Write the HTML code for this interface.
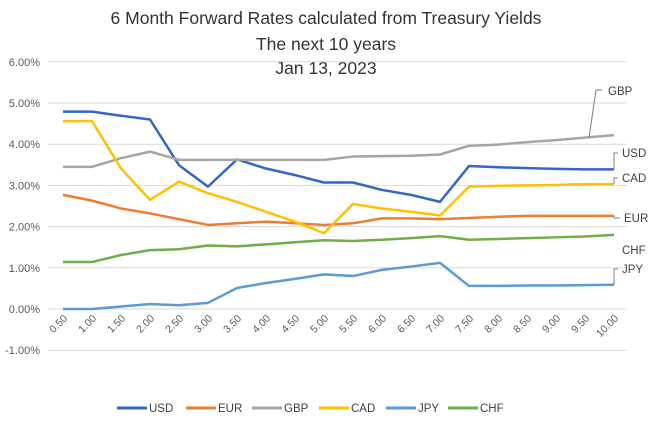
<!DOCTYPE html>
<html><head><meta charset="utf-8"><style>
body{margin:0;background:#fff;}
svg{display:block;font-family:"Liberation Sans",sans-serif;}
</style></head><body>
<svg id="chart" width="659" height="434">
<text x="326" y="24" text-anchor="middle" font-size="17.5" fill="#333">6 Month Forward Rates calculated from Treasury Yields</text>
<text x="326" y="50" text-anchor="middle" font-size="17.5" fill="#333">The next 10 years</text>
<text x="326" y="74" text-anchor="middle" font-size="17.5" fill="#333">Jan 13, 2023</text>
<g id="grid"></g><g id="series"></g><g id="labels"></g><g id="legend"></g>
</svg>
<script>
const categories=["0.50","1.00","1.50","2.00","2.50","3.00","3.50","4.00","4.50","5.00","5.50","6.00","6.50","7.00","7.50","8.00","8.50","9.00","9.50","10.00"];
const yTicks=[-1,0,1,2,3,4,5,6];
const seriesNames=["USD","EUR","GBP","CAD","JPY","CHF"];
const seriesColors=["#3366c6","#ed7d31","#a5a5a5","#ffc000","#5b9bd5","#70ad47"];
const usd=[4.79,4.79,4.69,4.60,3.49,2.97,3.63,3.41,3.25,3.07,3.07,2.89,2.77,2.60,3.47,3.44,3.42,3.40,3.39,3.39];
const eur=[2.77,2.63,2.44,2.32,2.18,2.04,2.08,2.12,2.08,2.04,2.08,2.20,2.20,2.18,2.21,2.24,2.26,2.26,2.26,2.26];
const gbp=[3.45,3.45,3.66,3.82,3.62,3.62,3.62,3.62,3.62,3.62,3.70,3.71,3.72,3.75,3.96,3.99,4.05,4.10,4.16,4.22];
const cad=[4.56,4.56,3.41,2.65,3.09,2.81,2.60,2.36,2.12,1.84,2.55,2.44,2.36,2.27,2.97,2.99,3.00,3.01,3.03,3.03];
const jpy=[0,0,0.06,0.12,0.09,0.15,0.51,0.63,0.73,0.84,0.80,0.95,1.03,1.12,0.56,0.56,0.57,0.57,0.58,0.59];
const chf=[1.14,1.14,1.31,1.43,1.45,1.54,1.52,1.57,1.62,1.67,1.65,1.68,1.72,1.77,1.68,1.70,1.72,1.74,1.76,1.80];
const seriesData=[usd,eur,gbp,cad,jpy,chf];

const NS="http://www.w3.org/2000/svg";
const X0=63,DX=29,Y0=309,DY=41.2;
const xs=i=>X0+i*DX;
const ys=v=>Y0-v*DY;
function mk(tag,attrs,parent,text){const e=document.createElementNS(NS,tag);for(const k in attrs)e.setAttribute(k,attrs[k]);if(text!=null)e.textContent=text;parent.appendChild(e);return e;}
const grid=document.getElementById('grid'),ser=document.getElementById('series'),lab=document.getElementById('labels'),leg=document.getElementById('legend');
yTicks.forEach(t=>{
  const l=mk('line',{x1:48,x2:627,y1:ys(t),y2:ys(t),stroke:'#d9d9d9','stroke-width':1},grid);
  
  
  const tx=mk('text',{x:40,y:ys(t)+4,'text-anchor':'end','font-size':11,fill:'#595959'},grid,t.toFixed(2)+'%');
  
  
});
categories.forEach((c,i)=>{
  const x=xs(i)+5,y=319;
  const tx=mk('text',{x:x,y:y,'text-anchor':'end','font-size':10.5,fill:'#595959',transform:`rotate(-45 ${x} ${y})`},grid,c);
  
  
});
seriesData.forEach((d,s)=>{
  const p=mk('polyline',{points:d.map((v,i)=>xs(i)+','+ys(v)).join(' '),fill:'none',stroke:seriesColors[s],'stroke-width':2.5,'stroke-linejoin':'round'},ser);
  
  
});
const n=categories.length-1;
const endLbl=[[0,622,157],[1,624,222],[2,608,95],[3,622,182],[4,622,273],[5,622,254]];
endLbl.forEach(([s,x,y])=>{
  const v=seriesData[s][s===2?n-1:n];
  const px=s===2?xs(n-1)+4:xs(n);
  if(s!==5){
    const pth=s===2?`M${px},${ys(v)} L${x-12},${y-5} L${x-6},${y-5}`:`M${px},${ys(v)} L${px},${y-4} L${x-4},${y-4}`;
    const l=mk('path',{d:pth,fill:'none',stroke:'#7f7f7f','stroke-width':1},lab);
    
    
  }
  const t=mk('text',{x:x,y:y,'font-size':11.5,fill:'#404040'},lab,seriesNames[s]);
  
  
});
const legX=[117,186,252,319,386,448];
seriesNames.forEach((nm,s)=>{
  const g=mk('g',{},leg);
  
  
  mk('line',{x1:legX[s],x2:legX[s]+30,y1:408,y2:408,stroke:seriesColors[s],'stroke-width':3},g);
  mk('text',{x:legX[s]+32,y:412,'font-size':11.5,fill:'#404040'},g,nm);
});
</script>
</body></html>
